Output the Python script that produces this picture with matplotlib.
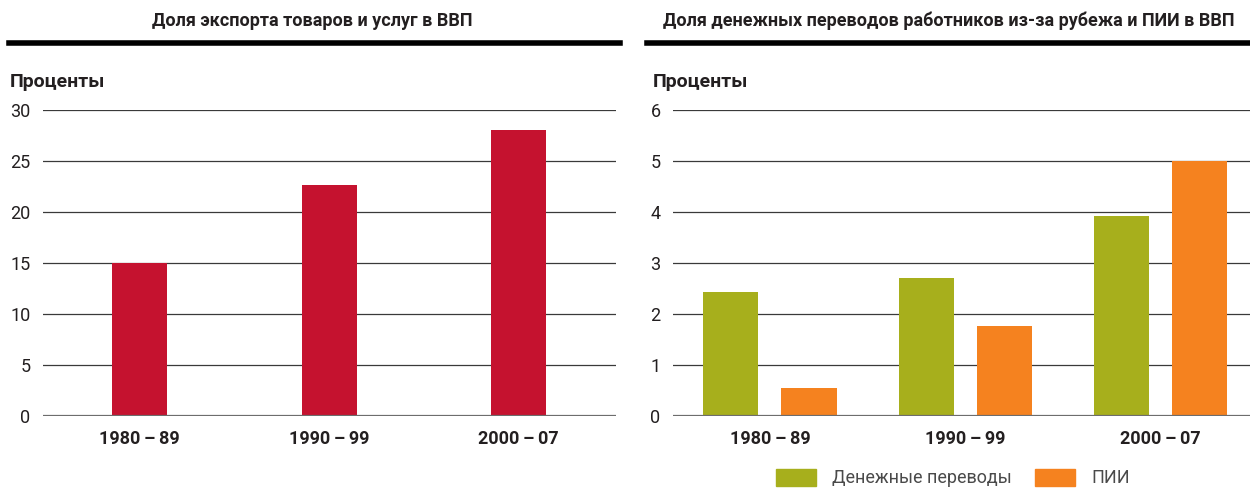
import numpy as np
import matplotlib
matplotlib.use("Agg")
import matplotlib.pyplot as plt
from matplotlib.lines import Line2D
from matplotlib.patches import Patch

plt.rcParams['font.family'] = ['Roboto', 'DejaVu Sans']

periods = ['1980\u2009–\u200989', '1990\u2009–\u200999', '2000\u2009–\u200907']
exports = [15.0, 22.6, 28.0]
remittances = [2.43, 2.71, 3.92]
fdi = [0.55, 1.76, 5.0]

title_left = 'Доля экспорта товаров и услуг в ВВП'
title_right = 'Доля денежных переводов работников из-за рубежа и ПИИ в ВВП'
ylabel = 'Проценты'
legend_labels = ['Денежные переводы', 'ПИИ']

red = '#c5122f'
green = '#a7af1c'
orange = '#f5821f'
txt = '#231f20'

W, H = 1250, 488
fig = plt.figure(figsize=(W / 100, H / 100), dpi=100)

def frac(x0, x1, ytop=110, ybot=416):
    return [x0 / W, 1 - ybot / H, (x1 - x0) / W, (ybot - ytop) / H]

axL = fig.add_axes(frac(43, 616))
axR = fig.add_axes(frac(673, 1250))

x = np.arange(len(periods))

axL.bar(x, exports, width=0.29, color=red, zorder=3)
axL.set_xlim(-0.509, 2.514)
axL.set_ylim(0, 30)
axL.set_yticks(range(0, 31, 5))

axR.bar(x - 0.2, remittances, width=0.282, color=green, zorder=3)
axR.bar(x + 0.2, fdi, width=0.282, color=orange, zorder=3)
axR.set_xlim(-0.497, 2.46)
axR.set_ylim(0, 6)
axR.set_yticks(range(0, 7))

for ax in (axL, axR):
    for s in ax.spines.values():
        s.set_visible(False)
    ax.grid(axis='y', color='#3a3a3a', linewidth=0.9, zorder=0)
    ax.axhline(0, color='#6d6d6d', linewidth=1.6, zorder=4)
    ax.set_xticks(x)
    ax.set_xticklabels(periods, fontsize=13, fontweight='bold', color=txt)
    ax.tick_params(axis='both', length=0, colors=txt)
    ax.tick_params(axis='y', labelsize=13, pad=9)
    ax.tick_params(axis='x', pad=10)
    for lab in ax.get_yticklabels():
        lab.set_color(txt)

# titles and header rules
fig.text(312 / W, 1 - 21 / H, title_left, ha='center', va='center',
         fontsize=13, fontweight='bold', color=txt)
fig.text(949 / W, 1 - 21 / H, title_right, ha='center', va='center',
         fontsize=13, fontweight='bold', color=txt)
fig.add_artist(Line2D([9 / W, 620 / W], [1 - 43 / H] * 2, color='black', linewidth=4))
fig.add_artist(Line2D([647 / W, 1.0], [1 - 43 / H] * 2, color='black', linewidth=4))

fig.text(10 / W, 1 - 82 / H, ylabel, ha='left', va='center',
         fontsize=14, fontweight='bold', color=txt)
fig.text(653 / W, 1 - 82 / H, ylabel, ha='left', va='center',
         fontsize=14, fontweight='bold', color=txt)

handles = [Patch(color=green), Patch(color=orange)]
fig.legend(handles, legend_labels, loc='center left',
           bbox_to_anchor=(776 / W, 1 - 478 / H), ncol=2, frameon=False,
           fontsize=13, borderpad=0, borderaxespad=0, handlelength=2.2,
           handleheight=1.1, handletextpad=0.9, columnspacing=1.3,
           labelcolor='#4a4a4a')

fig.savefig('out.png', dpi=100)
